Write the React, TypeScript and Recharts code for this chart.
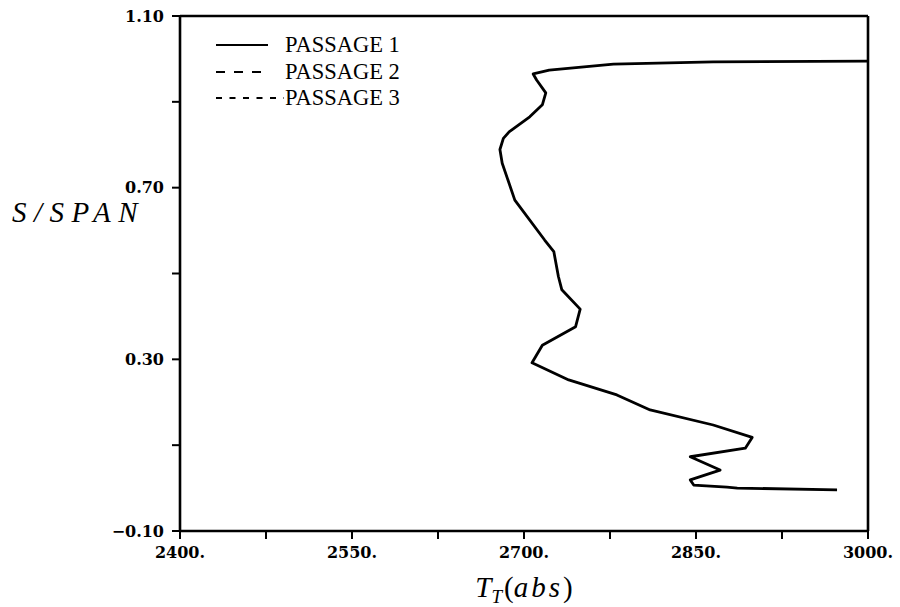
import { Legend, Line, LineChart, ReferenceLine, XAxis, YAxis } from "recharts";

// total temperature along the span, tip (top) down to hub
const passage1T = [
  3000, 2865, 2778, 2722, 2708, 2711, 2719, 2716, 2705, 2687, 2682, 2679, 2681, 2692, 2718, 2726,
  2730, 2733, 2749, 2745, 2716, 2707, 2739, 2781, 2810, 2865, 2899, 2893, 2845, 2871, 2845, 2848,
  2877, 2886, 2973,
];
const passage1S = [
  0.995, 0.993, 0.988, 0.974, 0.965, 0.951, 0.921, 0.893, 0.865, 0.83, 0.815, 0.789, 0.757, 0.671,
  0.578, 0.551, 0.493, 0.462, 0.417, 0.376, 0.333, 0.292, 0.252, 0.217, 0.182, 0.147, 0.118, 0.093,
  0.073, 0.042, 0.019, 0.007, 0.002, 0.0, -0.004,
];

const xTicks = [2400, 2475, 2550, 2625, 2700, 2775, 2850, 2925, 3000];
const xLabels = ["2400.", "", "2550.", "", "2700.", "", "2850.", "", "3000."];
const yTicks = [-0.1, 0.1, 0.3, 0.5, 0.7, 0.9, 1.1];
const yLabels = ["\u22120.10", "", "0.30", "", "0.70", "", "1.10"];

const seriesNames = ["PASSAGE 1", "PASSAGE 2", "PASSAGE 3"];
const seriesKeys = ["p1", "p2", "p3"];

// line styles for the three passages (legend samples use the same dashes)
const seriesStyle: Record<string, { dash?: string; sample: number }> = {
  p1: { sample: 52 },
  p2: { dash: "9 9", sample: 48 },
  p3: { dash: "6 7.5", sample: 68 },
};

const rows = passage1T.map((t, i) => ({ t, p1: passage1S[i] }));

const tickFont = {
  fontFamily: "DejaVu Serif",
  fontWeight: "bold",
  fontSize: 16,
  fill: "#000",
};

function PassageLegend() {
  return (
    <div style={{ fontFamily: "Liberation Serif, serif", fontSize: 22.5, color: "#000" }}>
      {seriesKeys.map((k, i) => (
        <div key={k} style={{ display: "flex", alignItems: "center", height: 26.6 }}>
          <svg width={69} height={10} style={{ display: "block" }}>
            <line
              x1={0}
              x2={seriesStyle[k].sample}
              y1={5}
              y2={5}
              stroke="#000"
              strokeWidth={2}
              strokeDasharray={seriesStyle[k].dash}
            />
          </svg>
          <span style={{ lineHeight: 1 }}>{seriesNames[i]}</span>
        </div>
      ))}
    </div>
  );
}

export default function App() {
  return (
    <div style={{ position: "absolute", left: 0, top: 0, width: 900, height: 607, background: "#fff" }}>
      <LineChart width={900} height={607} data={rows} margin={{ top: 16, right: 32, bottom: 0, left: 0 }}>
        <XAxis
          dataKey="t"
          type="number"
          domain={[2400, 3000]}
          ticks={xTicks}
          interval={0}
          height={76}
          tickSize={8}
          tickMargin={8}
          tick={tickFont}
          tickFormatter={(v) => xLabels[xTicks.indexOf(v)] ?? ""}
          axisLine={{ stroke: "#000", strokeWidth: 2.6 }}
          tickLine={{ stroke: "#000", strokeWidth: 2 }}
          label={{
            content: ({ viewBox }: any) => {
              const cx = viewBox.x + viewBox.width / 2;
              return (
                <text
                  x={cx}
                  y={viewBox.y + 66}
                  textAnchor="middle"
                  fontFamily="Liberation Serif, serif"
                  fontSize={29}
                  fill="#000"
                >
                  <tspan fontStyle="italic">T</tspan>
                  <tspan fontStyle="italic" fontSize={19} dy={6}>
                    T
                  </tspan>
                  <tspan dy={-6} dx={2}>(</tspan>
                  <tspan fontStyle="italic" letterSpacing={3}>abs</tspan>
                  <tspan>)</tspan>
                </text>
              );
            },
          }}
        />
        <YAxis
          type="number"
          domain={[-0.1, 1.1]}
          ticks={yTicks}
          interval={0}
          width={180}
          tickSize={8}
          tickMargin={8}
          tick={tickFont}
          tickFormatter={(v) => yLabels[yTicks.indexOf(v)] ?? ""}
          axisLine={{ stroke: "#000", strokeWidth: 2.6 }}
          tickLine={{ stroke: "#000", strokeWidth: 2 }}
          label={{
            content: ({ viewBox }: any) => (
              <text
                x={viewBox.x + 12}
                y={viewBox.y + 206}
                fontFamily="Liberation Serif, serif"
                fontStyle="italic"
                fontSize={29}
                letterSpacing={7.5}
                fill="#000"
              >
                S/SPAN
              </text>
            ),
          }}
        />
        {/* frame: top and right edges */}
        <ReferenceLine y={1.1} stroke="#000" strokeWidth={2.6} />
        <ReferenceLine x={3000} stroke="#000" strokeWidth={2.6} />
        {seriesKeys.map((k, i) => (
          <Line
            key={k}
            dataKey={k}
            name={seriesNames[i]}
            type="linear"
            stroke="#000"
            strokeWidth={2.8}
            strokeDasharray={seriesStyle[k].dash}
            strokeLinejoin="round"
            dot={false}
            isAnimationActive={false}
          />
        ))}
        <Legend
          layout="vertical"
          align="center"
          verticalAlign="middle"
          content={() => <PassageLegend />}
          wrapperStyle={{ left: 216, top: 32, width: 240, height: 80 }}
        />
      </LineChart>
    </div>
  );
}
